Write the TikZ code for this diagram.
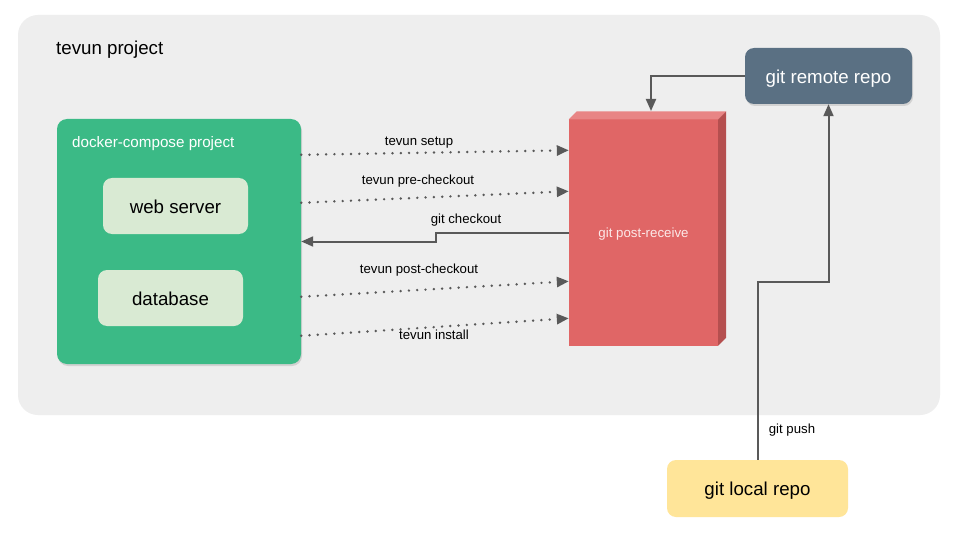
\documentclass[tikz,border=0pt]{standalone}
\usepackage{fontspec}
\setmainfont{Liberation Sans}
\usetikzlibrary{arrows.meta,shadows,calc}
\definecolor{bgpanel}{HTML}{EEEEEE}
\definecolor{dgreen}{HTML}{3BBA86}
\definecolor{lgreen}{HTML}{D9EAD3}
\definecolor{redfront}{HTML}{E06666}
\definecolor{redtop}{HTML}{E88585}
\definecolor{redside}{HTML}{B54F4F}
\definecolor{slate}{HTML}{5A7083}
\definecolor{ylw}{HTML}{FFE599}
\definecolor{lnc}{HTML}{595959}
\definecolor{prtext}{HTML}{FCE8E8}
\tikzset{
  box/.style={rounded corners=9pt, inner sep=0pt, draw=none},
  bigtxt/.style={font=\fontsize{18.7pt}{22pt}\selectfont, text height=15pt, text depth=0.4pt},
  smalltxt/.style={font=\fontsize{13.2pt}{16pt}\selectfont, text=black, text height=10.5pt, text depth=0.2pt},
  solidarrow/.style={draw=lnc, line width=2pt, -{Triangle[length=12pt,width=10pt]}},
  dotarrow/.style={draw=lnc, line width=2.7pt, line cap=round, dash pattern=on 0pt off 8.3pt, -{Triangle[length=12pt,width=10pt]}},
  shad/.style={drop shadow={opacity=0.25, shadow xshift=1pt, shadow yshift=-2pt}},
}
\begin{document}
\begin{tikzpicture}[x=1pt,y=-1pt]
\useasboundingbox (0,0) rectangle (960,540);
\fill[white] (0,0) rectangle (960,540);
% panel
\node[box, rounded corners=20pt, fill=bgpanel, minimum width=922pt, minimum height=400pt] (panel) at (479,215) {};
\node[bigtxt, anchor=west, inner sep=0pt] (ptitle) at (56,47) {tevun project};
% docker-compose
\node[box, rounded corners=10pt, fill=dgreen, shad, minimum width=244pt, minimum height=245pt] (green) at (179,241.5) {};
\node[anchor=west, inner sep=0pt, text=white, font=\fontsize{15.2pt}{18pt}\selectfont, text height=12pt, text depth=0.2pt] (gtitle) at (72,142) {docker-compose project};
\node[box, fill=lgreen, bigtxt, minimum width=145pt, minimum height=56pt] (web) at (175.5,206) {web server};
\node[box, fill=lgreen, bigtxt, minimum width=145pt, minimum height=56pt] (db) at (170.5,298) {database};
% post-receive 3D box
\node[fill=redfront, inner sep=0pt, minimum width=149pt, minimum height=226pt, text=prtext, font=\fontsize{13.3pt}{16pt}\selectfont, text height=10.5pt, text depth=0.2pt] (pr) at (643.5,232.5) {git post-receive};
\fill[redtop] (pr.north west) -- ++(8,-8) -- ($(pr.north east)+(8pt,8pt)$) -- (pr.north east) -- cycle;
\fill[redside] (pr.north east) -- ++(8,-8) -- ($(pr.south east)+(8pt,8pt)$) -- (pr.south east) -- cycle;
\coordinate (prtop) at (651,111);
% remote & local
\node[box, fill=slate, shad, bigtxt, text=white, minimum width=167pt, minimum height=56pt] (remote) at (828.5,76) {git remote repo};
\node[box, fill=ylw, bigtxt, minimum width=181pt, minimum height=57pt] (local) at (757.5,488.5) {git local repo};
% connectors
\draw[solidarrow] (remote.west) -| (prtop);
\coordinate (bend) at (790,282);
\draw[solidarrow] (local.north) |- (bend) -| (remote.south);
\node[smalltxt] (lpush) at (792,428) {git push};
\coordinate (chk) at (436,237);
\draw[solidarrow] (pr.west) -| (chk) |- (green.east);
\node[smalltxt] (lchk) at (466,218) {git checkout};
\draw[dotarrow] ([yshift=-36pt]green.north east) -- ([yshift=-31pt]pr.north west);
\node[smalltxt] (lsetup) at (419,140) {tevun setup};
\draw[dotarrow] ([yshift=-84pt]green.north east) -- ([yshift=-72pt]pr.north west);
\node[smalltxt] (lpre) at (418,179) {tevun pre-checkout};
\draw[dotarrow] ([yshift=-178pt]green.north east) -- ([yshift=-162pt]pr.north west);
\node[smalltxt] (lpost) at (419,268) {tevun post-checkout};
\draw[dotarrow] ([yshift=-217pt]green.north east) -- ([yshift=-199pt]pr.north west);
\node[smalltxt] (linst) at (434,334) {tevun install};
\end{tikzpicture}
\end{document}
